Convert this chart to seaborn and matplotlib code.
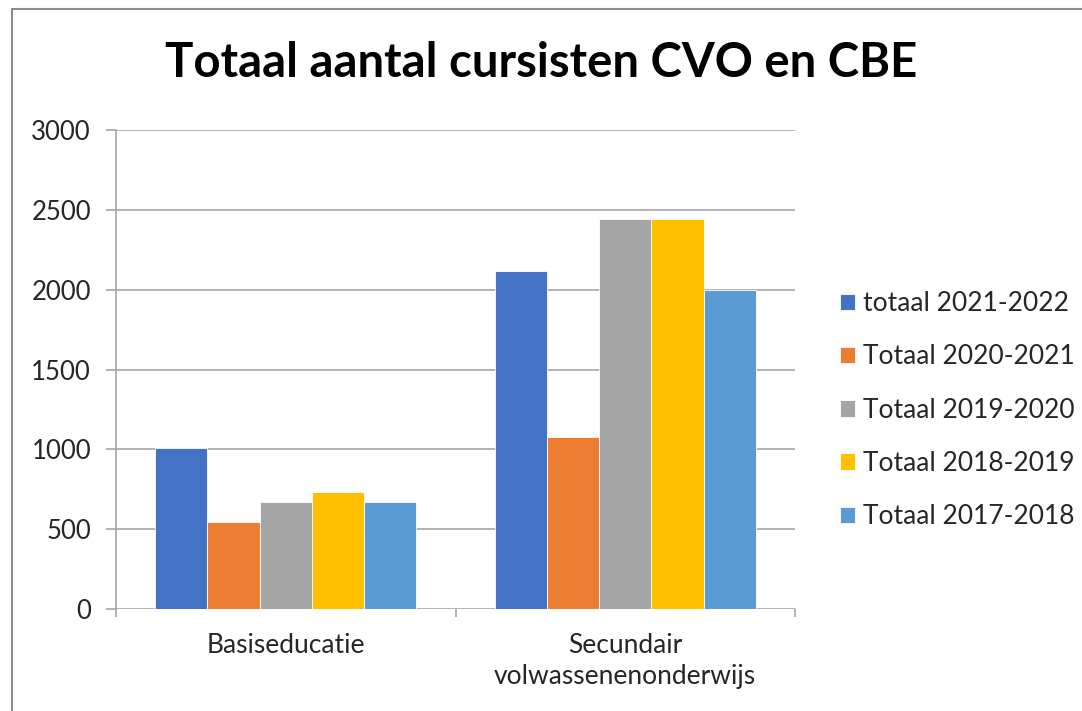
import pandas as pd
import matplotlib.pyplot as plt
import seaborn as sns
from matplotlib.patches import Rectangle

# Data
categories = ['Basiseducatie', 'Secundair\nvolwassenenonderwijs']
series = ['totaal 2021-2022', 'Totaal 2020-2021', 'Totaal 2019-2020',
          'Totaal 2018-2019', 'Totaal 2017-2018']
values = {
    'totaal 2021-2022': [1010, 2120],
    'Totaal 2020-2021': [545, 1080],
    'Totaal 2019-2020': [668, 2440],
    'Totaal 2018-2019': [730, 2440],
    'Totaal 2017-2018': [668, 2000],
}
colors = ['#4472C4', '#ED7D31', '#A5A5A5', '#FFC000', '#5B9BD5']
y_ticks = [0, 500, 1000, 1500, 2000, 2500, 3000]

rows = []
for s in series:
    for c, v in zip(categories, values[s]):
        rows.append({'Categorie': c, 'Reeks': s, 'Aantal': v})
df = pd.DataFrame(rows)

sns.set_theme(style='white')
plt.rcParams['font.family'] = ['Lato', 'DejaVu Sans']

fig = plt.figure(figsize=(10.82, 7.11), dpi=100)
ax = fig.add_axes([116 / 1082, 1 - 609 / 711, (795 - 116) / 1082, (609 - 130) / 711])

sns.barplot(data=df, x='Categorie', y='Aantal', hue='Reeks', order=categories,
            hue_order=series, palette=colors, width=0.77, saturation=1,
            edgecolor='white', linewidth=0.6, ax=ax)

grid_c = '#A6A6A6'
ax.set_ylim(0, 3000)
ax.set_xlim(-0.5, 1.5)
ax.set_yticks(y_ticks)
ax.yaxis.grid(True, color=grid_c, linewidth=1.2)
ax.set_axisbelow(True)
for side in ['top', 'right', 'bottom']:
    ax.spines[side].set_visible(False)
ax.spines['left'].set_color(grid_c)
ax.spines['left'].set_linewidth(1.2)
ax.tick_params(axis='y', left=True, length=7, width=1.2, color=grid_c, pad=11,
               labelsize=18.5, labelcolor='#262626')
ax.set_xticks([0, 1])
ax.set_xticklabels(categories, linespacing=1.3)
ax.set_xticks([-0.5, 0.5, 1.5], minor=True)
ax.tick_params(axis='x', which='major', length=0, pad=17, labelsize=19,
               labelcolor='#262626')
ax.tick_params(axis='x', which='minor', bottom=True, length=6, width=1.2, color=grid_c)
ax.set_xlabel('')
ax.set_ylabel('')

ax.legend(loc='center left', bbox_to_anchor=(1.031, 0.415), frameon=False,
          fontsize=19, handlelength=0.58, handleheight=0.58, handletextpad=0.3,
          labelspacing=1.07, labelcolor='#262626')

fig.suptitle('Totaal aantal cursisten CVO en CBE', x=0.5, y=1 - 63 / 711,
             va='center', fontsize=34, fontweight='bold', color='black')

fig.patches.append(Rectangle((12 / 1082, -0.1), 1.2, 1.1 - 9 / 711,
                             transform=fig.transFigure, fill=False,
                             edgecolor='#8C8C8C', linewidth=1.5))

fig.savefig('out.png', dpi=100)
